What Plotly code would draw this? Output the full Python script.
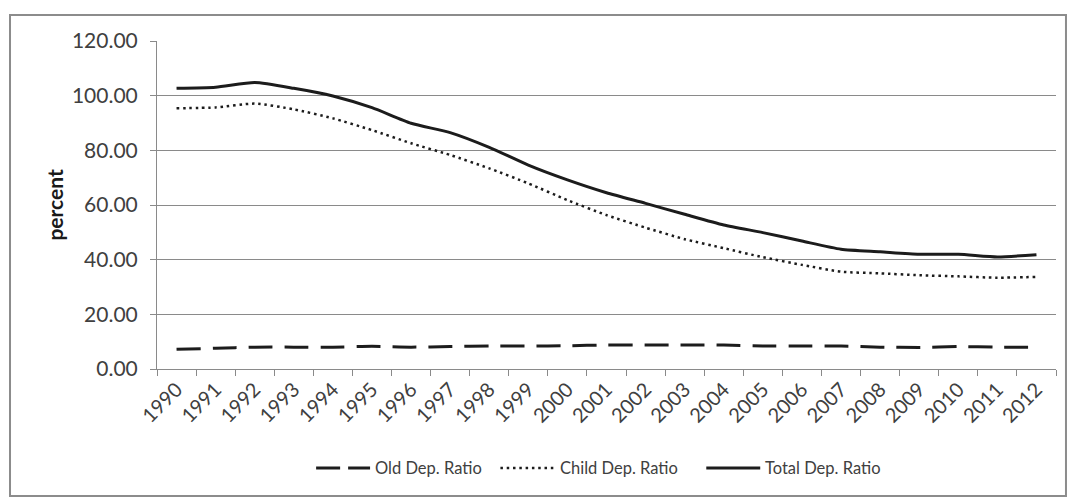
import plotly.graph_objects as go

years = [str(y) for y in range(1990, 2013)]

old_ratio = [7.2, 7.6, 8.0, 8.0, 8.0, 8.3, 8.0, 8.2, 8.4, 8.4, 8.5, 8.8,
             8.8, 8.8, 8.8, 8.4, 8.4, 8.4, 8.0, 7.9, 8.2, 8.0, 8.0]
child_ratio = [95.4, 95.7, 97.1, 95.0, 91.7, 87.4, 82.6, 78.3, 73.4, 67.9, 61.8, 56.3,
               51.7, 47.5, 44.2, 40.9, 38.1, 35.6, 35.0, 34.3, 33.9, 33.4, 33.7]
total_ratio = [102.7, 103.1, 104.8, 102.7, 99.9, 95.6, 89.9, 86.5, 81.1, 74.6, 69.2, 64.5,
               60.6, 56.6, 52.7, 49.9, 46.8, 43.8, 42.9, 42.0, 42.0, 41.0, 41.8]

series_names = ["Old Dep. Ratio", "Child Dep. Ratio", "Total Dep. Ratio"]

y_ticks = [0, 20, 40, 60, 80, 100, 120]
y_tick_text = [f"{v:.2f}" for v in y_ticks]

INK = "#1c1c1c"
GRID = "#8a8a8a"
TEXT = "#404040"
FONT = "Lato"

line_styles = [
    dict(color=INK, width=3, dash="24px,8px"),
    dict(color=INK, width=2.5, dash="2.5px,3.8px"),
    dict(color=INK, width=3, dash="solid"),
]

fig = go.Figure()
for name, values, style in zip(series_names, [old_ratio, child_ratio, total_ratio], line_styles):
    trace_line = dict(style)
    if name == "Old Dep. Ratio":
        trace_line["dash"] = "24px,12px"
    fig.add_trace(go.Scatter(
        x=years, y=values, name=name, mode="lines", showlegend=False,
        line=dict(**trace_line, shape="spline", smoothing=0.6),
    ))

# Legend drawn below the axis: a line sample followed by its label
legend_y = -0.302
legend_slots = [(0.177, 0.237), (0.382, 0.443), (0.611, 0.671)]
shapes = []
annotations = []
for name, style, (x0, x1) in zip(series_names, line_styles, legend_slots):
    shapes.append(dict(
        type="line", xref="paper", yref="paper",
        x0=x0, x1=x1, y0=legend_y, y1=legend_y,
        line=dict(color=style["color"], width=style["width"], dash=style["dash"]),
    ))
    annotations.append(dict(
        text=name, xref="paper", yref="paper",
        x=x1 + 0.003, y=legend_y, xanchor="left", yanchor="middle",
        showarrow=False, font=dict(family=FONT, size=16.5, color=TEXT),
    ))

annotations.append(dict(
    text="<b>percent</b>", xref="paper", yref="paper",
    x=-0.115, y=0.5, xanchor="center", yanchor="middle",
    textangle=-90, showarrow=False,
    font=dict(family=FONT, size=21, color="#1a1a1a"),
))

# Outer chart frame
shapes.append(dict(
    type="rect", xref="paper", yref="paper",
    x0=-0.1635, x1=1.0111, y0=-0.387, y1=1.0793,
    line=dict(color="#8c8c8c", width=2), layer="below",
))

fig.update_layout(
    width=1074, height=498,
    margin=dict(l=157, r=18, t=41, b=129),
    paper_bgcolor="white", plot_bgcolor="white",
    font=dict(family=FONT, color=TEXT),
    showlegend=False,
    xaxis=dict(
        type="category", tickson="boundaries",
        showgrid=False, showline=True, linecolor=GRID, linewidth=1,
        ticks="outside", ticklen=6, tickcolor=GRID,
        tickangle=-45, tickfont=dict(family=FONT, size=20, color=TEXT),
        range=[-0.5, len(years) - 0.5], fixedrange=True,
    ),
    yaxis=dict(
        range=[0, 120], tickvals=y_ticks, ticktext=y_tick_text,
        showgrid=True, gridcolor=GRID, gridwidth=1,
        showline=True, linecolor=GRID, linewidth=1,
        ticks="outside", ticklen=6, tickcolor=GRID,
        ticklabelstandoff=8,
        tickfont=dict(family=FONT, size=21, color=TEXT),
        zeroline=False, fixedrange=True,
    ),
    annotations=annotations,
    shapes=shapes,
)

fig.write_html("out.html", config={"displayModeBar": False})
